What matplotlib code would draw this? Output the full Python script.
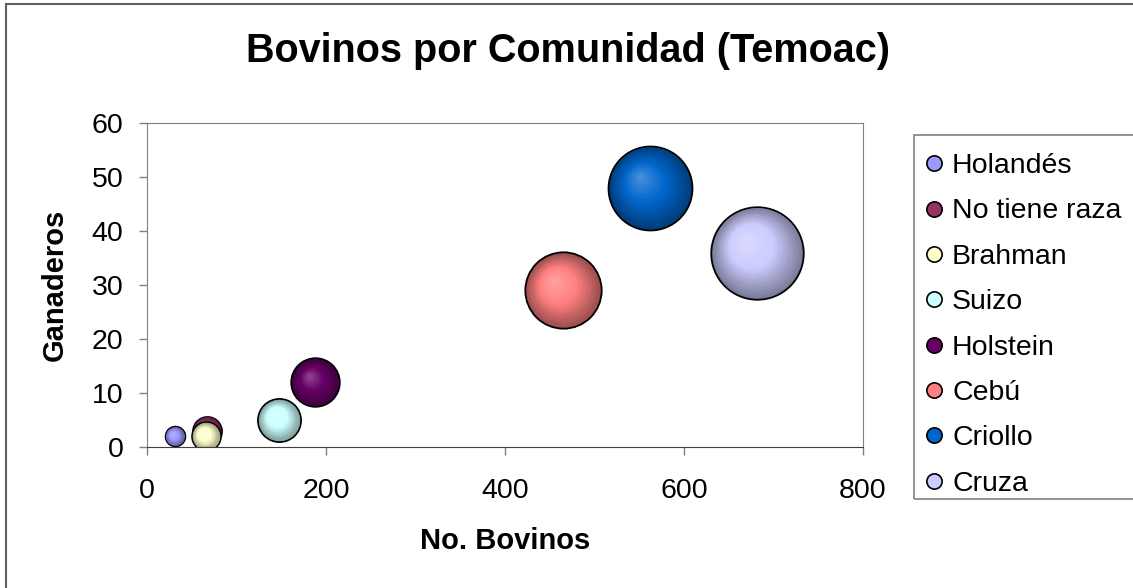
import numpy as np
import matplotlib
matplotlib.use("Agg")
import matplotlib.pyplot as plt
import matplotlib.colors as mcolors
from matplotlib.transforms import ScaledTranslation
from matplotlib.lines import Line2D
from matplotlib.patches import Rectangle

plt.rcParams["font.family"] = ["Liberation Sans", "DejaVu Sans"]

# datos
razas = ["Holandés", "No tiene raza", "Brahman", "Suizo", "Holstein", "Cebú", "Criollo", "Cruza"]
bovinos = [31, 67, 66, 148, 188, 465, 562, 682]
ganaderos = [2, 3, 2, 5, 12, 29, 48, 36]
tamano = [31, 67, 66, 148, 188, 465, 562, 682]  # tamano de burbuja
colores = ["#9999FF", "#993366", "#FFFFCC", "#CCFFFF", "#660066", "#FF8080", "#0066CC", "#CCCCFF"]

W, H, DPI = 1133, 588, 100
fig = plt.figure(figsize=(W / DPI, H / DPI), dpi=DPI)

# borde exterior del area de grafico
fig.patches.append(Rectangle((6 / W, -0.05), 1.1, 1 - 4 / H + 0.05, transform=fig.transFigure,
                             fill=False, edgecolor="#606060", linewidth=1.5))

ax = fig.add_axes([147 / W, 1 - 447 / H, (863 - 147) / W, (447 - 123) / H])

SCALE = 6.5  # puntos^2 por unidad de tamano
N_LAYERS = 24


def mix(c, other, t):
    c = np.array(mcolors.to_rgb(c))
    o = np.array(mcolors.to_rgb(other))
    return tuple(c * (1 - t) + o * t)


for x, y, sz, col in zip(bovinos, ganaderos, tamano, colores):
    s = SCALE * sz
    r_pt = np.sqrt(s) / 2
    dark = mix(col, "black", 0.4)
    light = mix(col, "white", 0.3)
    # contorno
    ax.scatter([x], [y], s=s, color=dark, edgecolors="black", linewidths=1.3, zorder=2)
    for k in range(1, N_LAYERS):
        f = 1 - k / N_LAYERS
        t = 1 - f
        if t < 0.5:
            c = mix(dark, col, t / 0.5)
        else:
            c = mix(col, light, (t - 0.5) / 0.5)
        off = ScaledTranslation(-0.27 * r_pt * t / 72, 0.27 * r_pt * t / 72, fig.dpi_scale_trans)
        ax.scatter([x], [y], s=s * f ** 2, color=c, linewidths=0,
                   transform=ax.transData + off, zorder=2)

ax.set_xlim(0, 800)
ax.set_ylim(0, 60)
ax.set_xticks(np.arange(0, 801, 200))
ax.set_yticks(np.arange(0, 61, 10))
ax.tick_params(direction="out", length=6, width=1, colors="#808080", labelcolor="black",
               labelsize=20.5)
ax.tick_params(axis="y", pad=11)
ax.tick_params(axis="x", pad=16)
for side in ["top", "right", "left"]:
    ax.spines[side].set_color("#808080")
ax.spines["bottom"].set_color("#404040")

fig.text(568 / W, 1 - 51 / H, "Bovinos por Comunidad (Temoac)", ha="center", va="center",
         fontsize=28.5, fontweight="bold")
fig.text(505 / W, 1 - 541 / H, "No. Bovinos", ha="center", va="center",
         fontsize=21, fontweight="bold")
fig.text(55 / W, 1 - 285 / H, "Ganaderos", ha="center", va="center", rotation=90,
         fontsize=21, fontweight="bold")

# leyenda: marco dibujado aparte
fig.patches.append(Rectangle((914 / W, 1 - 499 / H), 0.3, (499 - 135) / H, transform=fig.transFigure,
                             fill=False, edgecolor="#808080", linewidth=1.2))
handles = [Line2D([], [], linestyle="none", marker="o", markersize=11, markerfacecolor=c,
                  markeredgecolor="black", markeredgewidth=1.2) for c in colores]
leg = fig.legend(handles, razas, loc="upper left", bbox_to_anchor=(913 / W, 1 - 144 / H),
                 borderaxespad=0, fontsize=20.5, frameon=False,
                 handlelength=0.8, handletextpad=0.25, labelspacing=0.68, borderpad=0.32)

fig.savefig("out.png", dpi=DPI)
